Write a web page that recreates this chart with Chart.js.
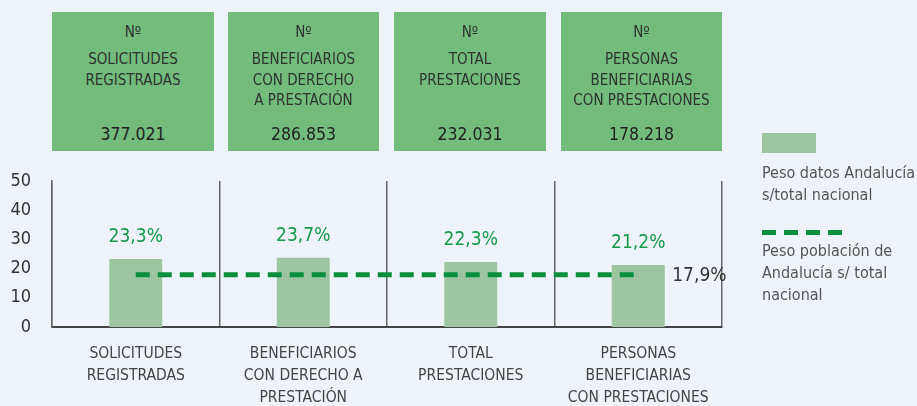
<!DOCTYPE html>
<html>
<head>
<meta charset="utf-8">
<script src="https://cdn.jsdelivr.net/npm/chart.js@4.4.1/dist/chart.umd.min.js"></script>
<style>
  html, body { margin: 0; padding: 0; background: #eef2f9; }
  #wrap { position: relative; width: 917px; height: 406px; overflow: hidden;
          font-family: 'Liberation Sans Narrow', 'DejaVu Sans Condensed', 'Roboto', sans-serif; }
  canvas { position: absolute; left: 0; top: 0; }
  .box { position: absolute; top: 12px; height: 139px; background: #74bc7b; color: #2e332f; text-align: center; }
  .box .n { position: absolute; left: 0; right: 0; top: 10px; font-size: 15px; line-height: 21px; }
  .box .t { position: absolute; left: 0; right: 0; top: 37px; font-size: 15px; line-height: 20.5px; }
  .box .v { position: absolute; left: 0; right: 0; top: 110px; font-size: 17.5px; line-height: 24px; color: #222; }
  .leg { position: absolute; left: 762px; color: #555; font-size: 16px; line-height: 22px; white-space: nowrap; }
</style>
</head>
<body>
<div id="wrap">
  <canvas id="c" width="917" height="406"></canvas>
  <div id="boxes"></div>
  <div id="legend"></div>
</div>
<script>
// ---- data ----
const categories = [
  ["SOLICITUDES", "REGISTRADAS"],
  ["BENEFICIARIOS", "CON DERECHO A", "PRESTACIÓN"],
  ["TOTAL", "PRESTACIONES"],
  ["PERSONAS", "BENEFICIARIAS", "CON PRESTACIONES"]
];
const boxTitles = [
  ["SOLICITUDES", "REGISTRADAS"],
  ["BENEFICIARIOS", "CON DERECHO", "A PRESTACIÓN"],
  ["TOTAL", "PRESTACIONES"],
  ["PERSONAS", "BENEFICIARIAS", "CON PRESTACIONES"]
];
const boxNumbers = [377021, 286853, 232031, 178218];
const pesoDatos = [23.3, 23.7, 22.3, 21.2];
const pesoPoblacion = 17.9;
const yTicks = [0, 10, 20, 30, 40, 50];
const legendLabels = ["Peso datos Andalucía s/total nacional", "Peso población de Andalucía s/ total nacional"];

// ---- styles ----
const BAR_COLOR = '#9dc59f';
const LINE_COLOR = '#0a8f3f';
const LABEL_GREEN = '#16994b';
const FONT = "'Liberation Sans Narrow', 'DejaVu Sans Condensed', 'Roboto', sans-serif";

function fmtThousands(n) { return String(n).replace(/\B(?=(\d{3})+(?!\d))/g, '.'); }
function fmtPct(v) { return v.toFixed(1).replace('.', ',') + '%'; }

// top boxes (layout positions)
const boxPos = [[52, 214], [228, 379], [394, 546], [561, 722]];
const boxesEl = document.getElementById('boxes');
boxTitles.forEach((t, i) => {
  const d = document.createElement('div');
  d.className = 'box';
  d.style.left = boxPos[i][0] + 'px';
  d.style.width = (boxPos[i][1] - boxPos[i][0]) + 'px';
  d.innerHTML = '<div class="n">Nº</div><div class="t">' + t.join('<br>') + '</div><div class="v">' + fmtThousands(boxNumbers[i]) + '</div>';
  boxesEl.appendChild(d);
});

// legend
const legEl = document.getElementById('legend');
legEl.innerHTML =
  '<div style="position:absolute;left:762px;top:133px;width:54px;height:20px;background:' + BAR_COLOR + '"></div>' +
  '<div class="leg" style="top:162px">Peso datos Andalucía<br>s/total nacional</div>' +
  '<div style="position:absolute;left:762px;top:230px;width:80px;height:5px;background:repeating-linear-gradient(90deg,' + LINE_COLOR + ' 0 14px, transparent 14px 22px)"></div>' +
  '<div class="leg" style="top:240px">Peso población de<br>Andalucía s/ total<br>nacional</div>';

const labelPlugin = {
  id: 'labels',
  afterDatasetsDraw(chart) {
    const ctx = chart.ctx;
    ctx.save();
    const barMeta = chart.getDatasetMeta(0);
    ctx.font = '19px ' + FONT;
    ctx.textAlign = 'center';
    ctx.textBaseline = 'middle';
    ctx.fillStyle = LABEL_GREEN;
    barMeta.data.forEach((el, i) => {
      ctx.fillText(fmtPct(pesoDatos[i]), el.x, el.y - 22);
    });
    const lineMeta = chart.getDatasetMeta(1);
    const last = lineMeta.data[lineMeta.data.length - 1];
    ctx.textAlign = 'left';
    ctx.fillStyle = '#333';
    ctx.fillText(fmtPct(pesoPoblacion), last.x + 34, last.y + 1);
    ctx.restore();
  }
};

new Chart(document.getElementById('c'), {
  data: {
    labels: categories,
    datasets: [
      {
        type: 'bar',
        label: legendLabels[0],
        data: pesoDatos,
        backgroundColor: BAR_COLOR,
        borderWidth: 0,
        barPercentage: 0.316,
        categoryPercentage: 1.0,
        order: 2
      },
      {
        type: 'line',
        label: legendLabels[1],
        data: categories.map(() => pesoPoblacion),
        borderColor: LINE_COLOR,
        borderWidth: 5,
        borderDash: [14, 8],
        pointRadius: 0,
        fill: false,
        order: 1
      }
    ]
  },
  options: {
    responsive: false,
    animation: false,
    layout: { padding: { top: 181, right: 195, bottom: 0, left: 0 } },
    plugins: { legend: { display: false }, tooltip: { enabled: false } },
    scales: {
      x: {
        offset: true,
        afterFit(s) { s.height = 79; },
        grid: { offset: true, color: '#666', lineWidth: 1.5, drawTicks: false },
        border: { display: true, color: '#444', width: 2 },
        ticks: { color: '#444', font: { family: FONT, size: 15.5, lineHeight: 1.42 }, padding: 16, maxRotation: 0, autoSkip: false }
      },
      y: {
        min: 0, max: 50,
        afterFit(s) { s.width = 52; },
        afterBuildTicks(s) { s.ticks = yTicks.map(v => ({ value: v })); },
        grid: { display: false, drawTicks: false },
        border: { display: true, color: '#666', width: 1.5 },
        ticks: { color: '#333', font: { family: FONT, size: 18 }, padding: 21 }
      }
    }
  },
  plugins: [labelPlugin]
});
</script>
</body>
</html>
